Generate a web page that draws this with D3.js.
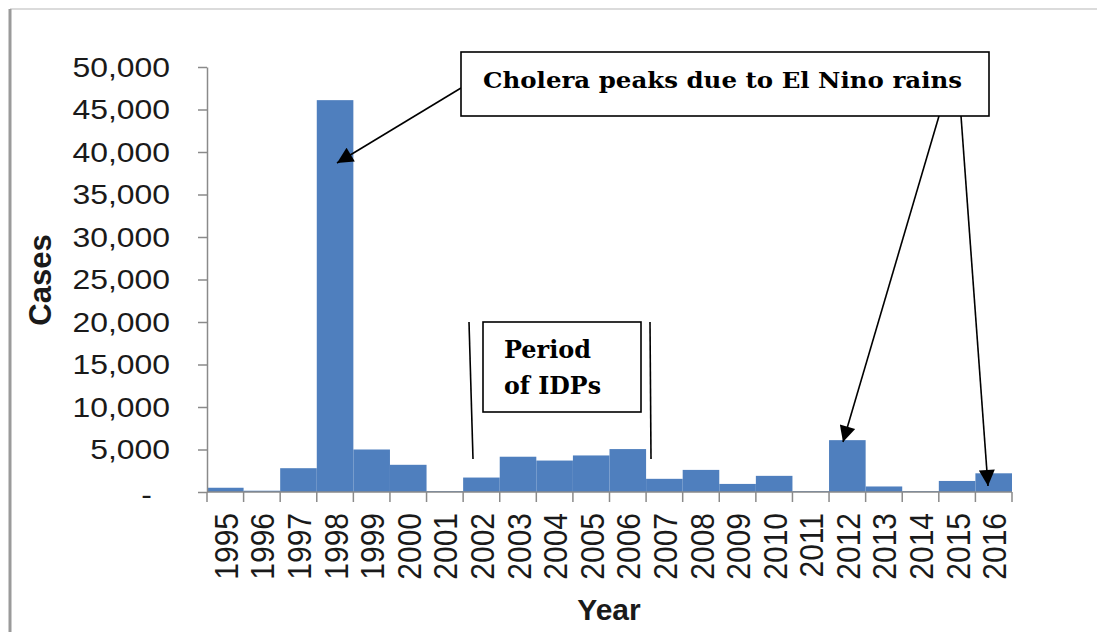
<!DOCTYPE html>
<html>
<head>
<meta charset="utf-8">
<script src="https://cdn.jsdelivr.net/npm/d3@7"></script>
<style>
  body { margin: 0; background: #fff; }
  svg { display: block; }
</style>
</head>
<body>
<div id="chart"></div>
<script>
var years = ['1995', '1996', '1997', '1998', '1999', '2000', '2001', '2002', '2003', '2004', '2005',
    '2006', '2007', '2008', '2009', '2010', '2011', '2012', '2013', '2014', '2015', '2016'];
var cases = [500, 150, 2800, 46100, 5000, 3200, 100, 1700, 4150, 3700, 4300,
    5050, 1550, 2600, 950, 1900, 100, 6100, 650, 100, 1300, 2200];
var y_ticks = [0, 5000, 10000, 15000, 20000, 25000, 30000, 35000, 40000, 45000, 50000];

var chart_width = 1097;
var chart_height = 632;
var plot_left = 207, plot_right = 1012, plot_top = 67, plot_bottom = 492;
var font = '"Liberation Sans", Arial, sans-serif';
var serif = '"DejaVu Serif", serif';

var svg = d3.select('#chart')
    .append('svg')
    .attr('width', chart_width)
    .attr('height', chart_height);

// moldura
svg.append('line')
    .attr('x1', 10).attr('y1', 9).attr('x2', chart_width).attr('y2', 9)
    .attr('stroke', '#cfcfcf').attr('stroke-width', 1.5);
svg.append('line')
    .attr('x1', 10).attr('y1', 9).attr('x2', 10).attr('y2', chart_height)
    .attr('stroke', '#9a9a9a').attr('stroke-width', 3);

// escalas
var x_scale = d3.scaleBand()
    .domain(years)
    .range([plot_left, plot_right])
    .padding(0);

var y_scale = d3.scaleLinear()
    .domain([0, 50000])
    .range([plot_bottom, plot_top]);

// barras
svg.selectAll('rect.bar')
    .data(cases)
    .enter()
    .append('rect')
    .attr('class', 'bar')
    .attr('x', function (d, i) { return x_scale(years[i]); })
    .attr('y', function (d) { return y_scale(d); })
    .attr('width', x_scale.bandwidth())
    .attr('height', function (d) { return plot_bottom - y_scale(d); })
    .attr('fill', '#4F7FBE');

// eixo y
var y_axis = svg.append('g')
    .attr('transform', 'translate(' + plot_left + ',0)')
    .call(d3.axisLeft(y_scale)
        .tickValues(y_ticks)
        .tickSize(9)
        .tickSizeOuter(0)
        .tickFormat(function (d) { return d === 0 ? '-' : d3.format(',')(d); }));
y_axis.select('.domain').attr('stroke', '#8a8a8a').attr('stroke-width', 1.5);
y_axis.selectAll('.tick line').attr('stroke', '#8a8a8a').attr('stroke-width', 1.5);
y_axis.selectAll('.tick text')
    .attr('x', 0)
    .attr('transform', function (d) {
        return d === 0 ? 'translate(-55,2) scale(1.12,1)' : 'translate(-37,0) scale(1.12,1)';
    })
    .attr('fill', '#1a1a1a')
    .style('font-family', font)
    .style('font-size', '28.5px');

// eixo x
svg.append('line')
    .attr('x1', plot_left).attr('x2', plot_right).attr('y1', plot_bottom).attr('y2', plot_bottom)
    .attr('stroke', '#8a8a8a').attr('stroke-width', 1.5);
var edges = years.map(function (d) { return x_scale(d); }).concat([plot_right]);
svg.selectAll('line.xtick')
    .data(edges)
    .enter()
    .append('line')
    .attr('class', 'xtick')
    .attr('x1', function (d) { return d; })
    .attr('x2', function (d) { return d; })
    .attr('y1', plot_bottom)
    .attr('y2', plot_bottom + 10)
    .attr('stroke', '#8a8a8a').attr('stroke-width', 1.5);

var x_axis = svg.append('g')
    .attr('transform', 'translate(0,' + plot_bottom + ')')
    .call(d3.axisBottom(x_scale).tickSize(0).tickSizeOuter(0));
x_axis.select('.domain').remove();
x_axis.selectAll('.tick text')
    .attr('x', 0)
    .attr('y', 0)
    .attr('dy', '0.35em')
    .attr('text-anchor', 'end')
    .attr('transform', 'translate(1,21) scale(1.1,1) rotate(-90)')
    .attr('fill', '#1a1a1a')
    .style('font-family', font)
    .style('font-size', '30px');

// titulos dos eixos
svg.append('text')
    .text('Cases')
    .attr('transform', 'translate(51,280) rotate(-90)')
    .attr('text-anchor', 'middle')
    .style('font-family', font)
    .style('font-weight', 'bold')
    .style('font-size', '31px')
    .attr('fill', '#1a1a1a');

svg.append('text')
    .text('Year')
    .attr('x', 609)
    .attr('y', 620)
    .attr('text-anchor', 'middle')
    .style('font-family', font)
    .style('font-weight', 'bold')
    .style('font-size', '30px')
    .attr('fill', '#1a1a1a');

// setas
svg.append('defs').append('marker')
    .attr('id', 'arrow')
    .attr('viewBox', '0 0 10 10')
    .attr('refX', 10)
    .attr('refY', 5)
    .attr('markerUnits', 'userSpaceOnUse')
    .attr('markerWidth', 20)
    .attr('markerHeight', 16)
    .attr('orient', 'auto')
    .append('path')
    .attr('d', 'M0,0 L10,5 L0,10 Z')
    .attr('fill', '#000');

var arrows = [
    [461, 88, 337, 163],
    [939, 116, 843, 442],
    [961, 116, 988, 486]
];
svg.selectAll('line.arrow')
    .data(arrows)
    .enter()
    .append('line')
    .attr('class', 'arrow')
    .attr('x1', function (d) { return d[0]; })
    .attr('y1', function (d) { return d[1]; })
    .attr('x2', function (d) { return d[2]; })
    .attr('y2', function (d) { return d[3]; })
    .attr('stroke', '#000')
    .attr('stroke-width', 1.6)
    .attr('marker-end', 'url(#arrow)');

// caixa de anotacao
svg.append('rect')
    .attr('x', 461).attr('y', 52).attr('width', 528).attr('height', 64)
    .attr('fill', '#fff').attr('stroke', '#000').attr('stroke-width', 1.6);
svg.append('text')
    .text('Cholera peaks due to El Nino rains')
    .attr('x', 483)
    .attr('y', 88)
    .attr('textLength', 479)
    .attr('lengthAdjust', 'spacingAndGlyphs')
    .style('font-family', serif)
    .style('font-weight', 'bold')
    .style('font-size', '23px')
    .attr('fill', '#000');

// periodo de IDPs
svg.append('rect')
    .attr('x', 483).attr('y', 322).attr('width', 158).attr('height', 90)
    .attr('fill', '#fff').attr('stroke', '#000').attr('stroke-width', 1.6);
svg.append('text')
    .text('Period')
    .attr('x', 504)
    .attr('y', 358)
    .attr('textLength', 87)
    .attr('lengthAdjust', 'spacingAndGlyphs')
    .style('font-family', serif)
    .style('font-weight', 'bold')
    .style('font-size', '25px');
svg.append('text')
    .text('of IDPs')
    .attr('x', 504)
    .attr('y', 394)
    .attr('textLength', 97)
    .attr('lengthAdjust', 'spacingAndGlyphs')
    .style('font-family', serif)
    .style('font-weight', 'bold')
    .style('font-size', '25px');

var idp_lines = [[469, 322, 473, 459], [650, 322, 651, 459]];
svg.selectAll('line.idp')
    .data(idp_lines)
    .enter()
    .append('line')
    .attr('class', 'idp')
    .attr('x1', function (d) { return d[0]; })
    .attr('y1', function (d) { return d[1]; })
    .attr('x2', function (d) { return d[2]; })
    .attr('y2', function (d) { return d[3]; })
    .attr('stroke', '#000')
    .attr('stroke-width', 1.6);
</script>
</body>
</html>
